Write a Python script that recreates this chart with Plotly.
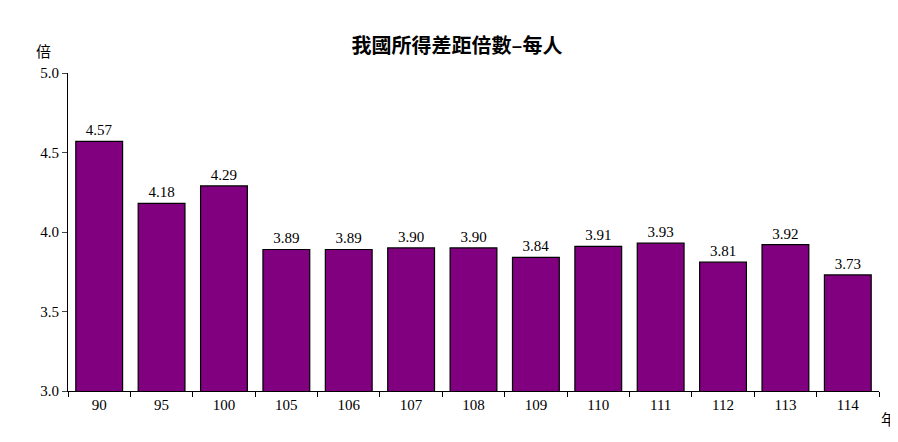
import plotly.graph_objects as go

years = ["90","95","100","105","106","107","108","109","110","111","112","113","114"]
values = [4.57,4.18,4.29,3.89,3.89,3.90,3.90,3.84,3.91,3.93,3.81,3.92,3.73]
labels = [f"{v:.2f}" for v in values]

fig = go.Figure(go.Bar(
    x=years, y=values, base=0, text=labels, textposition="outside",
    textfont=dict(family="Liberation Serif", size=15, color="black"),
    marker=dict(color="#800080", line=dict(color="black", width=1.2)),
    width=0.75, cliponaxis=False,
))
fig.update_layout(
    width=898, height=442, plot_bgcolor="white", paper_bgcolor="white",
    margin=dict(l=60, r=27, t=65, b=59), showlegend=False,
    title=dict(text="<b>我國所得差距倍數–每人</b>", x=0.5, xanchor="center", y=0.93,
               font=dict(family="Noto Sans CJK TC", size=20, color="black")),
    font=dict(family="Liberation Serif", size=15, color="black"),
    xaxis=dict(type="category", showline=True, linecolor="black", ticks="outside",
               ticklen=5, tickcolor="black", range=[-0.5, 12.5], tickson="boundaries"),
    yaxis=dict(range=[3.0, 5.0], dtick=0.5, tickformat=".1f", showline=True,
               linecolor="black", ticks="outside", ticklen=5, showgrid=False, zeroline=False),
    annotations=[
        dict(text="倍", x=0, xref="paper", y=1.03, yref="paper", xanchor="center",
             yanchor="bottom", showarrow=False, xshift=-25, font=dict(family="Noto Sans CJK TC", size=15)),
        dict(text="年", x=1, xref="paper", y=0, yref="paper", xanchor="left",
             yanchor="top", showarrow=False, yshift=-15, font=dict(family="Noto Sans CJK TC", size=15)),
    ],
)
fig.write_html("out.html")
